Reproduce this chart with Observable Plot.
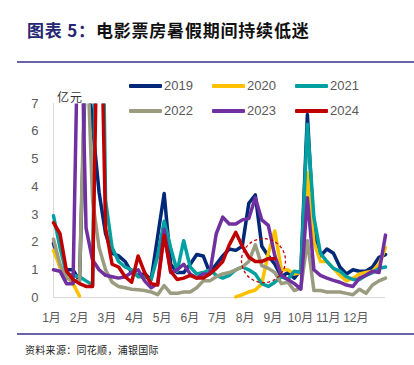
<!DOCTYPE html>
<html><head><meta charset="utf-8">
<script src="https://cdn.jsdelivr.net/npm/d3@7"></script>
<script src="https://cdn.jsdelivr.net/npm/@observablehq/plot@0.6"></script>
<style>
body{margin:0;background:#fff;}
#wrap{position:relative;width:414px;height:365px;overflow:hidden;font-family:"Liberation Sans","Noto Sans CJK SC",sans-serif;}
#title{position:absolute;left:27px;top:19px;font-family:"Noto Sans CJK SC";font-weight:700;font-size:17px;line-height:22px;color:#111;white-space:nowrap;letter-spacing:0.8px;}
#title .lab{color:#262673;}
.rule{position:absolute;left:17px;width:397px;height:1.5px;background:#6B63A8;}
#chart{position:absolute;left:0;top:70px;}
#unit{position:absolute;left:57px;top:89px;font-family:"Noto Sans CJK SC";font-size:12px;line-height:16px;color:#333;letter-spacing:1px;}
.sw{position:absolute;width:33px;height:3.5px;border-radius:1px;}
.lt{position:absolute;font-family:"Liberation Sans",sans-serif;font-size:13px;line-height:16px;color:#595959;}
#caption{position:absolute;left:25px;top:343px;font-family:"Noto Sans CJK SC";font-size:10px;line-height:14px;color:#222;letter-spacing:0.3px;}
</style></head>
<body>
<div id="wrap">
  <div id="title"><span class="lab">图表 5：</span>电影票房暑假期间持续低迷</div>
  <div class="rule" style="top:61px"></div>
  <div id="chart"></div>
  <div id="unit">亿元</div>
  <div id="legend"></div>
  <div class="rule" style="top:333px"></div>
  <div id="caption">资料来源：同花顺，浦银国际</div>
</div>
<script>
const months = ["1月","2月","3月","4月","5月","6月","7月","8月","9月","10月","11月","12月"];
const years = ["2019","2020","2021","2022","2023","2024"];
const colors = ["#002878","#FFC000","#00A0A0","#9B9B80","#7030A0","#C00000"];

// weekly values, 亿元
const v2019 = [1.95,1.1,1.0,1.0,0.6,9,6.2,3.8,2.3,1.6,
  1.5,1.3,0.9,0.8,0.85,0.65,2.2,3.75,1.2,0.9,
  0.9,1.2,1.55,1.5,0.9,1.2,1.5,1.75,1.7,1.85,
  3.4,3.7,1.85,1.5,1.2,0.75,0.9,0.7,1.0,6.6,
  2.3,1.5,1.75,1.6,1.1,0.85,1.0,0.95,0.95,1.1,
  1.45,1.55];
const v2020 = [1.7,1.1,0.8,0.5,0.05,
  null,null,null,null,null,null,null,null,null,null,null,null,null,null,null,null,null,null,null,null,null,null,null,
  0.02,0.1,0.2,0.27,0.5,1.6,2.4,1.0,1.0,0.85,0.9,4.5,
  2.0,1.3,1.3,1.05,0.8,0.6,0.7,0.85,0.9,0.95,1.2,1.8];
const v2021 = [2.95,1.8,0.85,0.8,0.75,0.6,0.45,20,3.5,1.8,
  1.3,1.1,1.0,0.75,0.75,0.65,1.5,2.75,1.8,0.95,
  2.05,1.1,0.85,0.9,1.0,0.8,0.7,0.8,1.0,1.1,
  1.0,0.85,0.5,0.4,0.55,0.75,0.65,0.95,0.9,6.25,
  2.9,1.6,1.3,1.05,0.95,0.75,0.65,0.65,0.8,0.9,
  1.05,1.1];
const v2022 = [2.1,1.2,0.7,0.6,0.6,10,3.5,1.8,1.0,0.55,
  0.4,0.35,0.3,0.28,0.25,0.2,0.1,0.43,0.15,0.15,
  0.2,0.2,0.35,0.6,0.6,0.75,0.85,0.9,1.0,1.1,
  1.3,1.9,1.15,1.05,0.9,0.5,0.55,0.25,0.35,2.05,
  0.25,0.25,0.2,0.2,0.2,0.15,0.1,0.3,0.15,0.45,
  0.6,0.7];
const v2023 = [1.0,0.95,0.5,0.5,13,2.5,1.35,1.0,0.8,0.75,
  0.7,0.75,0.9,1.0,0.6,0.35,0.5,2.45,0.9,1.0,
  1.2,0.85,0.7,0.85,0.85,2.3,2.9,2.65,2.65,2.8,
  2.85,3.6,2.8,2.6,1.5,0.8,0.65,0.5,0.3,3.6,
  1.0,0.8,0.7,0.62,0.55,0.45,0.4,0.7,0.8,0.95,
  0.9,2.25];
const v2024 = [2.7,2.3,0.95,0.65,0.5,0.4,0.4,14,2.5,1.2,
  1.1,0.75,0.55,1.5,0.9,0.5,0.45,2.25,0.95,0.65,
  0.7,0.8,0.7,0.7,0.85,1.05,1.3,1.9,2.35,1.85,
  1.45,1.3,1.3,1.4,1.4];
const yTicks = [0,1,2,3,4,5,6,7];
const highlight = {month: 7.59, value: 1.33};

const seriesValues = [v2019, v2020, v2021, v2022, v2023, v2024];
const nWeeks = 52;
const rows = [];
years.forEach((yr, k) => seriesValues[k].forEach((v, i) => rows.push({year: yr, m: i * 12 / (nWeeks - 1), v})));

const lineMarks = years.map((yr, k) => Plot.line(rows.filter(d => d.year === yr), {
  x: "m", y: "v", stroke: colors[k], strokeWidth: 3.5, strokeLinejoin: "round", strokeLinecap: "round"
}));

const chart = Plot.plot({
  width: 414, height: 260,
  marginLeft: 53, marginRight: 29, marginTop: 33, marginBottom: 33,
  style: {fontFamily: "'Liberation Sans','Noto Sans CJK SC',sans-serif", color: "#595959", background: "transparent"},
  x: {domain: [0, 12]},
  y: {domain: [0, 7]},
  marks: [
    Plot.ruleY([0], {stroke: "#D9D9D9", strokeWidth: 1}),
    Plot.ruleX([0], {stroke: "#D9D9D9", strokeWidth: 1}),
    Plot.axisX({ticks: d3.range(12), tickFormat: i => months[i], tickSize: 0, tickPadding: 16, fontSize: 12, dx: -2, label: null}),
    Plot.axisY({ticks: yTicks, tickFormat: d3.format("d"), tickSize: 0, tickPadding: 15, fontSize: 13, label: null}),
    ...lineMarks,
    Plot.dot([highlight], {x: "month", y: "value", r: 22, stroke: "#C00000", strokeWidth: 1.3, strokeDasharray: "3,2.5", fill: "none"})
  ]
});
document.getElementById("chart").appendChild(chart);

// clip lines at the top of the frame only
const svg = d3.select(chart);
const cid = "topclip";
svg.insert("defs", ":first-child").append("clipPath").attr("id", cid)
  .append("rect").attr("x", 0).attr("y", 33).attr("width", 414).attr("height", 227);
svg.selectAll('g[aria-label="line"]').attr("clip-path", `url(#${cid})`);

// legend overlay
const lg = document.getElementById("legend");
years.forEach((yr, k) => {
  const col = k % 3, row = Math.floor(k / 3);
  const x0 = 129 + col * 83, yc = 86 + row * 25;
  const sw = document.createElement("div");
  sw.className = "sw"; sw.style.left = x0 + "px"; sw.style.top = (yc - 1.75) + "px"; sw.style.background = colors[k];
  const t = document.createElement("div");
  t.className = "lt"; t.style.left = (x0 + 35) + "px"; t.style.top = (yc - 8) + "px"; t.textContent = yr;
  lg.appendChild(sw); lg.appendChild(t);
});
</script>
</body></html>
